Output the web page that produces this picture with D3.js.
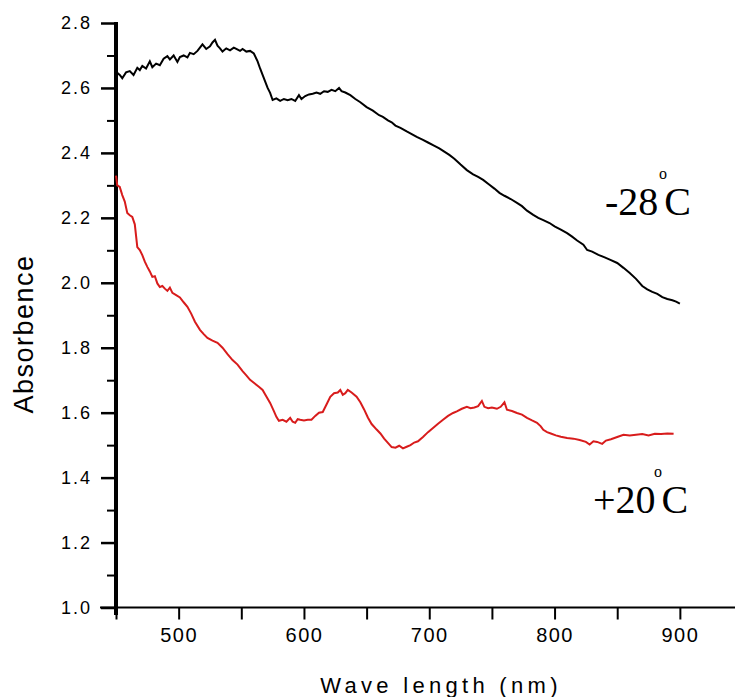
<!DOCTYPE html>
<html>
<head>
<meta charset="utf-8">
<script src="https://cdn.jsdelivr.net/npm/d3@7"></script>
<style>
html,body{margin:0;padding:0;background:#fff;}
svg{display:block;}
</style>
</head>
<body>
<svg id="chart" width="735" height="697"></svg>
<script>
// ---- data ----
const coldWavelength = [450,453,455,458,461,464,467,469,471,474,477,479,482,485,488,491,493,496,499,501,504,507,509,512,515,517,519,522,525,527,529,531,533,535,538,541,544,546,549,551,554,557,560,563,565,567,569,571,573,575,578,581,584,587,590,593,596,598,601,604,607,610,613,616,619,622,625,628,630,633,637,641,645,650,655,660,663,667,670,673,677,682,686,690,695,699,703,708,712,716,720,725,730,735,739,743,748,752,756,760,765,770,774,778,783,787,791,796,800,805,810,814,818,823,826,830,835,840,845,850,855,860,865,870,874,878,882,886,890,894,897,900];
const coldAbsorbance = [2.650,2.640,2.630,2.648,2.652,2.640,2.662,2.655,2.668,2.660,2.682,2.664,2.675,2.670,2.690,2.698,2.688,2.700,2.680,2.695,2.700,2.694,2.708,2.704,2.714,2.724,2.734,2.720,2.728,2.740,2.748,2.730,2.722,2.712,2.722,2.716,2.724,2.720,2.714,2.720,2.712,2.714,2.706,2.682,2.660,2.640,2.620,2.600,2.585,2.563,2.568,2.560,2.566,2.562,2.566,2.560,2.578,2.566,2.575,2.580,2.582,2.586,2.582,2.590,2.588,2.594,2.590,2.600,2.590,2.586,2.578,2.566,2.556,2.541,2.530,2.516,2.511,2.500,2.494,2.484,2.477,2.466,2.458,2.449,2.440,2.432,2.424,2.414,2.404,2.394,2.382,2.364,2.347,2.334,2.326,2.317,2.302,2.290,2.277,2.268,2.258,2.246,2.236,2.222,2.209,2.200,2.193,2.184,2.174,2.164,2.153,2.142,2.130,2.117,2.101,2.096,2.086,2.078,2.070,2.061,2.046,2.030,2.012,1.990,1.980,1.972,1.966,1.956,1.950,1.946,1.942,1.936];

const warmWavelength = [450,451,453,455,457,459,461,463,465,467,469,471,473,475,477,479,481,483,485,487,489,491,493,495,498,501,504,507,510,513,517,520,523,527,531,535,539,543,547,551,554,557,560,564,567,570,573,576,578,580,583,586,589,591,593,595,597,600,603,606,609,612,615,618,621,624,627,629,631,633,635,638,642,645,648,651,654,658,661,664,667,670,673,676,679,682,685,688,691,695,699,703,707,711,715,719,722,726,730,733,736,739,742,744,747,750,754,757,760,762,766,770,774,778,782,786,789,791,794,797,801,805,810,815,820,825,828,831,834,838,841,845,850,855,860,865,870,875,880,885,890,895];
const warmAbsorbance = [2.330,2.300,2.295,2.270,2.250,2.215,2.208,2.203,2.180,2.110,2.101,2.085,2.065,2.049,2.035,2.018,2.020,1.998,1.987,1.990,1.982,1.975,1.985,1.969,1.962,1.955,1.940,1.926,1.905,1.880,1.855,1.842,1.830,1.822,1.815,1.800,1.780,1.762,1.748,1.728,1.715,1.701,1.692,1.680,1.670,1.650,1.630,1.605,1.587,1.575,1.578,1.572,1.584,1.572,1.569,1.580,1.578,1.576,1.578,1.578,1.590,1.600,1.602,1.625,1.649,1.660,1.662,1.670,1.655,1.660,1.670,1.662,1.649,1.632,1.610,1.585,1.565,1.548,1.536,1.520,1.507,1.494,1.492,1.498,1.490,1.495,1.500,1.508,1.512,1.525,1.540,1.553,1.566,1.578,1.590,1.599,1.604,1.612,1.618,1.614,1.616,1.620,1.636,1.618,1.614,1.616,1.612,1.618,1.632,1.609,1.605,1.599,1.594,1.584,1.576,1.569,1.558,1.547,1.540,1.536,1.530,1.526,1.522,1.520,1.516,1.510,1.502,1.512,1.510,1.504,1.514,1.518,1.525,1.532,1.530,1.532,1.534,1.530,1.535,1.534,1.536,1.535];

const xTickValues = [450,500,550,600,650,700,750,800,850,900];
const xTickLabels = ["","500","","600","","700","","800","","900"];
const yTickValues = [1.0,1.1,1.2,1.3,1.4,1.5,1.6,1.7,1.8,1.9,2.0,2.1,2.2,2.3,2.4,2.5,2.6,2.7,2.8];
const yTickLabels = ["1.0","","1.2","","1.4","","1.6","","1.8","","2.0","","2.2","","2.4","","2.6","","2.8"];
const xTitle = "Wave length (nm)";
const yTitle = "Absorbence";

// ---- drawing ----
const svg = d3.select("#chart");
const x = d3.scaleLinear().domain([450, 944]).range([116, 735]);
const y = d3.scaleLinear().domain([1.0, 2.8]).range([607.5, 23]);

const sans = "'Liberation Sans', Arial, sans-serif";
const serif = "'Liberation Serif', 'Times New Roman', serif";

// x axis
const xAxis = d3.axisBottom(x).tickValues(xTickValues)
  .tickFormat((d,i)=>xTickLabels[i]).tickSize(12).tickSizeOuter(0).tickPadding(8);
const gx = svg.append("g").attr("transform","translate(0,607.5)").call(xAxis);
gx.select(".domain").remove();
gx.selectAll(".tick line").attr("stroke","#000").attr("stroke-width",2);
gx.selectAll(".tick text").attr("font-family",sans).attr("font-size",20)
  .attr("letter-spacing","1.5px").attr("fill","#000");
svg.append("line").attr("x1",100).attr("x2",735).attr("y1",607.5).attr("y2",607.5)
  .attr("stroke","#000").attr("stroke-width",2);

// y axis
const yAxis = d3.axisLeft(y).tickValues(yTickValues)
  .tickFormat((d,i)=>yTickLabels[i]).tickSize(15).tickSizeOuter(0).tickPadding(8);
const gy = svg.append("g").attr("transform","translate(116,0)").call(yAxis);
gy.select(".domain").remove();
gy.selectAll(".tick line")
  .attr("x2",(d,i)=> yTickLabels[i] ? -15 : -9)
  .attr("stroke","#000").attr("stroke-width",(d,i)=> yTickLabels[i] ? 2.5 : 2);
gy.selectAll(".tick text").attr("font-family",sans).attr("font-size",18)
  .attr("letter-spacing","2px").attr("fill","#000").attr("x",-24);
svg.append("line").attr("x1",116).attr("x2",116).attr("y1",22).attr("y2",615)
  .attr("stroke","#000").attr("stroke-width",4);

// lines
const line = d3.line().x(d=>x(d[0])).y(d=>y(d[1]));
const coldData = coldWavelength.map((w,i)=>[w, coldAbsorbance[i]]);
const warmData = warmWavelength.map((w,i)=>[w, warmAbsorbance[i]]);
svg.append("path").datum(coldData).attr("d",line).attr("fill","none")
  .attr("stroke","#000").attr("stroke-width",2).attr("stroke-linejoin","miter");
svg.append("path").datum(warmData).attr("d",line).attr("fill","none")
  .attr("stroke","#d81c1c").attr("stroke-width",2).attr("stroke-linejoin","miter");

// labels: main text plus a separate raised degree mark
function tempLabel(px, py, main, degX) {
  const t = svg.append("text").attr("x",px).attr("y",py)
    .attr("font-family",serif).attr("font-size",40).attr("fill","#000");
  t.append("tspan").text(main);
  t.append("tspan").text("C").attr("dx",6);
  svg.append("text").attr("x",degX).attr("y",py-36).attr("text-anchor","middle")
    .attr("font-family",serif).attr("font-size",16).attr("fill","#000").text("o");
}
tempLabel(605, 215, "-28", 663);
tempLabel(593, 513, "+20", 658);

// axis titles
svg.append("text").attr("x",441).attr("y",693).attr("text-anchor","middle")
  .attr("font-family",sans).attr("font-size",22).attr("letter-spacing","4.3px")
  .attr("fill","#000").text(xTitle);
svg.append("text").attr("transform","translate(33,334) rotate(-90)")
  .attr("text-anchor","middle").attr("font-family",sans).attr("font-size",27)
  .attr("letter-spacing","1.5px").attr("fill","#000").text(yTitle);
</script>
</body>
</html>
